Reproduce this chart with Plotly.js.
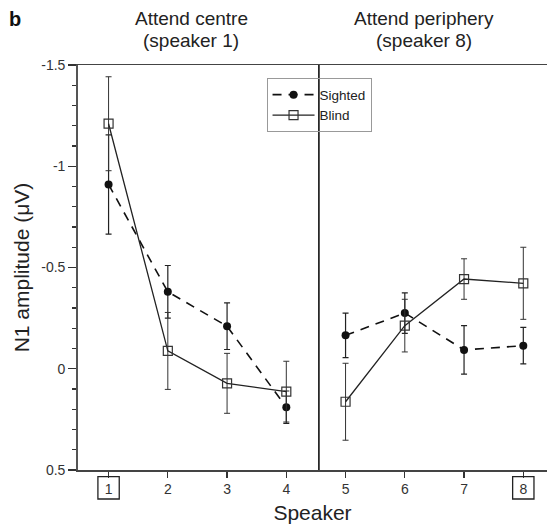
<!DOCTYPE html>
<html>
<head>
<meta charset="utf-8">
<script src="https://cdn.plot.ly/plotly-3.0.1.min.js"></script>
<style>html,body{margin:0;padding:0;background:#fff;}#chart{width:547px;height:527px;}</style>
</head>
<body>
<div id="chart"></div>
<script>
// ---- data ----
const speakers = [1, 2, 3, 4, 5, 6, 7, 8];
const tickLabels = ['1', '2', '3', '4', '5', '6', '7', '8'];
const boxedSpeakers = [1, 8];
const sighted = [-0.91, -0.38, -0.21, 0.19, -0.165, -0.275, -0.093, -0.114];
const sightedErr = [0.245, 0.13, 0.115, 0.08, 0.11, 0.10, 0.12, 0.09];
const blind = [-1.21, -0.088, 0.072, 0.113, 0.163, -0.213, -0.443, -0.422];
const blindErr = [0.232, 0.19, 0.148, 0.15, 0.19, 0.13, 0.10, 0.178];
const yTickVals = [-1.5, -1, -0.5, 0, 0.5];
const yTickText = ['-1.5', '-1', '-0.5', '0', '0.5'];
const conditionSplit = 4; // speakers 1-4 attend centre, 5-8 attend periphery
const dividerX = 4.55;

const FONT = 'Liberation Sans, Arial, sans-serif';

const series = [
  {name: 'Sighted', y: sighted, err: sightedErr,
   line: {color: '#111', width: 1.6, dash: '9px,7px'},
   marker: {symbol: 'circle', size: 8, color: '#111'},
   errColor: '#222', errThick: 1.2},
  {name: 'Blind', y: blind, err: blindErr,
   line: {color: '#222', width: 1.3},
   marker: {symbol: 'square-open', size: 9, color: '#333', line: {width: 1.2}},
   errColor: '#333', errThick: 1}
];

const traces = [];
series.forEach(s => {
  [[0, conditionSplit], [conditionSplit, speakers.length]].forEach((r, i) => {
    traces.push({
      x: speakers.slice(r[0], r[1]), y: s.y.slice(r[0], r[1]),
      name: s.name, legendgroup: s.name, showlegend: i === 0,
      type: 'scatter', mode: 'lines+markers',
      line: s.line, marker: s.marker,
      error_y: {type: 'data', array: s.err.slice(r[0], r[1]), visible: true,
                color: s.errColor, thickness: s.errThick, width: 3}
    });
  });
});

const shapes = [
  {type: 'line', xref: 'x', yref: 'paper', x0: dividerX, x1: dividerX, y0: 0, y1: 1,
   line: {color: '#111', width: 1.6}, layer: 'above'}
];
boxedSpeakers.forEach(s => shapes.push({
  type: 'rect', xref: 'x', yref: 'paper', x0: s - 0.18, x1: s + 0.18, y0: -0.0165, y1: -0.0716,
  line: {color: '#222', width: 1.3}
}));

const annotations = [
  {text: '<b>b</b>', xref: 'paper', yref: 'paper', x: -0.134, y: 1.1136, showarrow: false,
   xanchor: 'center', yanchor: 'middle', font: {family: FONT, size: 20, color: '#111'}},
  {text: 'Attend centre', xref: 'paper', yref: 'paper', x: 0.241, y: 1.1136, showarrow: false,
   xanchor: 'center', yanchor: 'middle', font: {family: FONT, size: 19, color: '#222'}},
  {text: '(speaker 1)', xref: 'paper', yref: 'paper', x: 0.241, y: 1.0617, showarrow: false,
   xanchor: 'center', yanchor: 'middle', font: {family: FONT, size: 19, color: '#222'}},
  {text: 'Attend periphery', xref: 'paper', yref: 'paper', x: 0.738, y: 1.1136, showarrow: false,
   xanchor: 'center', yanchor: 'middle', font: {family: FONT, size: 19, color: '#222'}},
  {text: '(speaker 8)', xref: 'paper', yref: 'paper', x: 0.738, y: 1.0617, showarrow: false,
   xanchor: 'center', yanchor: 'middle', font: {family: FONT, size: 19, color: '#222'}}
];

const layout = {
  width: 547, height: 527,
  margin: {l: 78, r: 0, t: 65, b: 57},
  paper_bgcolor: '#fff', plot_bgcolor: '#fff',
  font: {family: FONT, color: '#222'},
  showlegend: true,
  legend: {x: 0.402, y: 0.967, xanchor: 'left', yanchor: 'top', bgcolor: 'rgba(0,0,0,0)',
           bordercolor: '#999', borderwidth: 1, font: {family: FONT, size: 13.5, color: '#222'},
           tracegroupgap: 0, itemwidth: 42},
  xaxis: {
    range: [0.484, 8.4], tickmode: 'array', tickvals: speakers,
    ticktext: tickLabels, ticks: 'outside', ticklen: 6, tickwidth: 1.3, tickcolor: '#333',
    showline: true, linecolor: '#444', linewidth: 1.5, mirror: true,
    showgrid: false, zeroline: false,
    tickfont: {family: FONT, size: 14, color: '#333'},
    title: {text: 'Speaker', font: {family: FONT, size: 21, color: '#222'}, standoff: 9}
  },
  yaxis: {
    range: [0.5, -1.5], tickmode: 'array', tickvals: yTickVals, ticktext: yTickText,
    ticks: 'outside', ticklen: 8, tickwidth: 1.3, tickcolor: '#333',
    minor: {dtick: 0.1, ticks: 'outside', ticklen: 4, tickwidth: 1.2, tickcolor: '#333', showgrid: false},
    showline: true, linecolor: '#555', linewidth: 1.8,
    showgrid: false, zeroline: false,
    tickfont: {family: FONT, size: 14, color: '#333'},
    title: {text: 'N1 amplitude (μV)', font: {family: FONT, size: 21, color: '#222'}, standoff: 6}
  },
  shapes: shapes,
  annotations: annotations
};

Plotly.newPlot('chart', traces, layout, {displayModeBar: false, staticPlot: true});
</script>
</body>
</html>
